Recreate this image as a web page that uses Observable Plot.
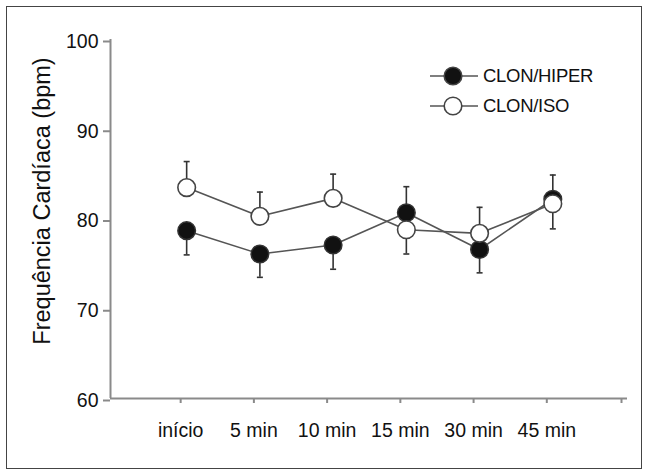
<!DOCTYPE html>
<html>
<head>
<meta charset="utf-8">
<script src="https://cdn.jsdelivr.net/npm/d3@7"></script>
<script src="https://cdn.jsdelivr.net/npm/@observablehq/plot@0.6"></script>
<style>
  html, body { margin: 0; padding: 0; background: #fff; }
  #wrap { position: relative; width: 649px; height: 476px; font-family: "Liberation Sans", Arial, sans-serif; }
  #border { position: absolute; left: 6px; top: 6px; width: 634px; height: 461px; border: 1px solid #444; pointer-events: none; }
  #legend { position: absolute; left: 428px; top: 61px; font-size: 18.5px; color: #111; letter-spacing: -0.3px; }
  #legend .row { display: flex; align-items: center; height: 30px; }
  #legend svg { display: block; margin-right: 3px; }
</style>
</head>
<body>
<div id="wrap">
  <div id="chart"></div>
  <div id="legend"></div>
  <div id="border"></div>
</div>
<script>
const times = ["início", "5 min", "10 min", "15 min", "30 min", "45 min"];
const hiper = [78.7, 76.1, 77.1, 80.7, 76.6, 82.2];
const hiperErr = [2.7, 2.6, 2.7, 2.9, 2.6, 2.7];
const iso = [83.5, 80.3, 82.3, 78.8, 78.4, 81.7];
const isoErr = [2.9, 2.7, 2.7, 2.7, 2.9, 2.8];
const yTicks = [60, 70, 80, 90, 100];
const seriesNames = ["CLON/HIPER", "CLON/ISO"];

const rows = [];
times.forEach((t, i) => {
  const h = hiper[i], s = iso[i];
  rows.push({series: seriesNames[0], i, t, v: hiper[i], e: hiperErr[i], up: h >= s});
  rows.push({series: seriesNames[1], i, t, v: iso[i], e: isoErr[i], up: s > h});
});
rows.forEach(d => { d.end = d.up ? d.v + d.e : d.v - d.e; });
const H = rows.filter(d => d.series === seriesNames[0]);
const S = rows.filter(d => d.series === seriesNames[1]);

const capSymbol = { draw(ctx, size) { const w = Math.sqrt(size / Math.PI); ctx.moveTo(-w, 0); ctx.lineTo(w, 0); } };
const xDomain = [-1.04, times.length + 0.02];
const axisGrey = "#8a8a8a";
const font = "Liberation Sans, Arial, sans-serif";

const chart = Plot.plot({
  width: 649,
  height: 476,
  marginLeft: 110,
  marginRight: 22,
  marginTop: 39,
  marginBottom: 78,
  style: { fontFamily: font, fontSize: "19.5px", color: "#111", background: "transparent" },
  x: { domain: xDomain, axis: null },
  y: { domain: [60, 100], axis: null },
  marks: [
    Plot.ruleY([60], { stroke: axisGrey, strokeWidth: 2 }),
    Plot.ruleX([xDomain[0]], { y1: 60, y2: 100, stroke: axisGrey, strokeWidth: 2 }),
    Plot.axisY({ ticks: yTicks, tickSize: 7, tickPadding: 5, stroke: axisGrey, strokeWidth: 2, dy: 2, label: null, fill: "#111" }),
    Plot.axisX({ ticks: [...d3.range(times.length), xDomain[1]], tickSize: 5, tickPadding: 20, stroke: axisGrey, strokeWidth: 2, tickFormat: i => times[i] ?? "", dx: -6, label: null, fill: "#111" }),
    Plot.text(["Frequência Cardíaca (bpm)"], { frameAnchor: "left", textAnchor: "middle", rotate: -90, dx: -68, dy: -18, fontSize: 23.5, fill: "#111" }),
    Plot.line(H, { x: "i", y: "v", stroke: "#555", strokeWidth: 1.6 }),
    Plot.line(S, { x: "i", y: "v", stroke: "#555", strokeWidth: 1.6 }),
    Plot.ruleX(rows, { x: "i", y1: "v", y2: "end", stroke: "#333", strokeWidth: 1.6 }),
    Plot.dot(rows, { x: "i", y: "end", symbol: capSymbol, r: 3, stroke: "#333", strokeWidth: 1.6 }),
    Plot.dot(H, { x: "i", y: "v", r: 8.8, fill: "#111", stroke: "#333", strokeWidth: 1.5 }),
    Plot.dot(S, { x: "i", y: "v", r: 8.8, fill: "#fff", stroke: "#444", strokeWidth: 1.6 })
  ]
});
document.getElementById("chart").appendChild(chart);

const legend = document.getElementById("legend");
const fills = ["#111", "#fff"];
seriesNames.forEach((name, k) => {
  const row = document.createElement("div");
  row.className = "row";
  row.innerHTML = `<svg width="52" height="24"><line x1="2" y1="12" x2="50" y2="12" stroke="#555" stroke-width="1.6"/><circle cx="25" cy="12" r="8.8" fill="${fills[k]}" stroke="#444" stroke-width="1.6"/></svg><span>${name}</span>`;
  legend.appendChild(row);
});
</script>
</body>
</html>
